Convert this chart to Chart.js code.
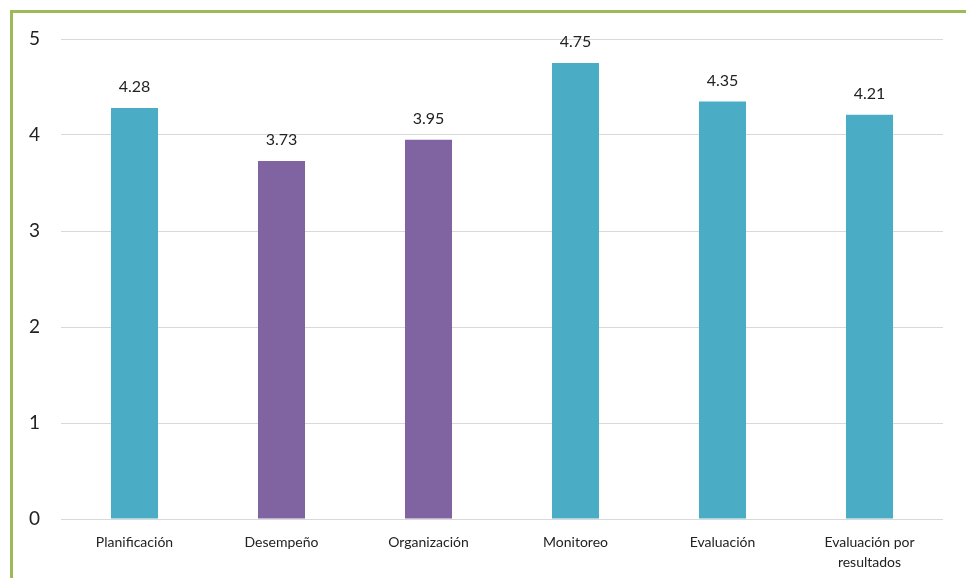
<!DOCTYPE html>
<html>
<head>
<meta charset="utf-8">
<title>Resultados por dimensión</title>
<script src="https://cdn.jsdelivr.net/npm/chart.js@4.4.1/dist/chart.umd.min.js"></script>
<style>
  html, body { margin: 0; padding: 0; background: #fff; overflow: hidden; }
  .marco {
    position: absolute; left: 10px; top: 10px;
    width: 953px; height: 565px;
    border-left: 3px solid #9BBB59; border-top: 3px solid #9BBB59;
  }
  canvas { display: block; }
</style>
</head>
<body>
<div class="marco"><canvas id="grafico" width="953" height="565"></canvas></div>
<script>
const categorias = ['Planificación', 'Desempeño', 'Organización', 'Monitoreo', 'Evaluación', ['Evaluación por', 'resultados']];
const puntajes = [4.28, 3.73, 3.95, 4.75, 4.35, 4.21];
const colores = ['#4BACC6', '#8064A2', '#8064A2', '#4BACC6', '#4BACC6', '#4BACC6'];
const marcasY = [0, 1, 2, 3, 4, 5];

const fuente = 'Lato, "Open Sans", sans-serif';

// escribe el valor encima de cada barra
const etiquetas = {
  id: 'etiquetas',
  afterDatasetsDraw(chart) {
    const ctx = chart.ctx;
    const meta = chart.getDatasetMeta(0);
    ctx.save();
    ctx.font = '16px ' + fuente;
    ctx.fillStyle = '#222';
    ctx.textAlign = 'center';
    ctx.textBaseline = 'middle';
    meta.data.forEach((bar, i) => {
      ctx.fillText(puntajes[i].toFixed(2), bar.x, bar.y - 21);
    });
    ctx.restore();
  }
};

new Chart(document.getElementById('grafico'), {
  type: 'bar',
  data: {
    labels: categorias,
    datasets: [{
      data: puntajes,
      backgroundColor: colores,
      barPercentage: 0.32,
      categoryPercentage: 1
    }]
  },
  options: {
    responsive: false,
    animation: false,
    layout: { padding: { top: 26, right: 23, left: 0, bottom: 0 } },
    plugins: { legend: { display: false }, tooltip: { enabled: false } },
    scales: {
      x: {
        grid: { display: false },
        border: { display: false },
        ticks: { color: '#222', font: { family: fuente, size: 14, lineHeight: 1.4 }, padding: 6, maxRotation: 0 },
        afterFit(scale) { scale.height = 59; }
      },
      y: {
        min: 0, max: 5,
        afterBuildTicks(scale) { scale.ticks = marcasY.map(v => ({ value: v })); },
        grid: { color: '#d9d9d9', drawTicks: false },
        border: { display: false },
        ticks: { color: '#222', font: { family: fuente, size: 19 }, padding: 21 },
        afterFit(scale) {
          scale.width = 48;
          scale.paddingTop = 0;
          scale.paddingBottom = 0;
        }
      }
    }
  },
  plugins: [etiquetas]
});
</script>
</body>
</html>
